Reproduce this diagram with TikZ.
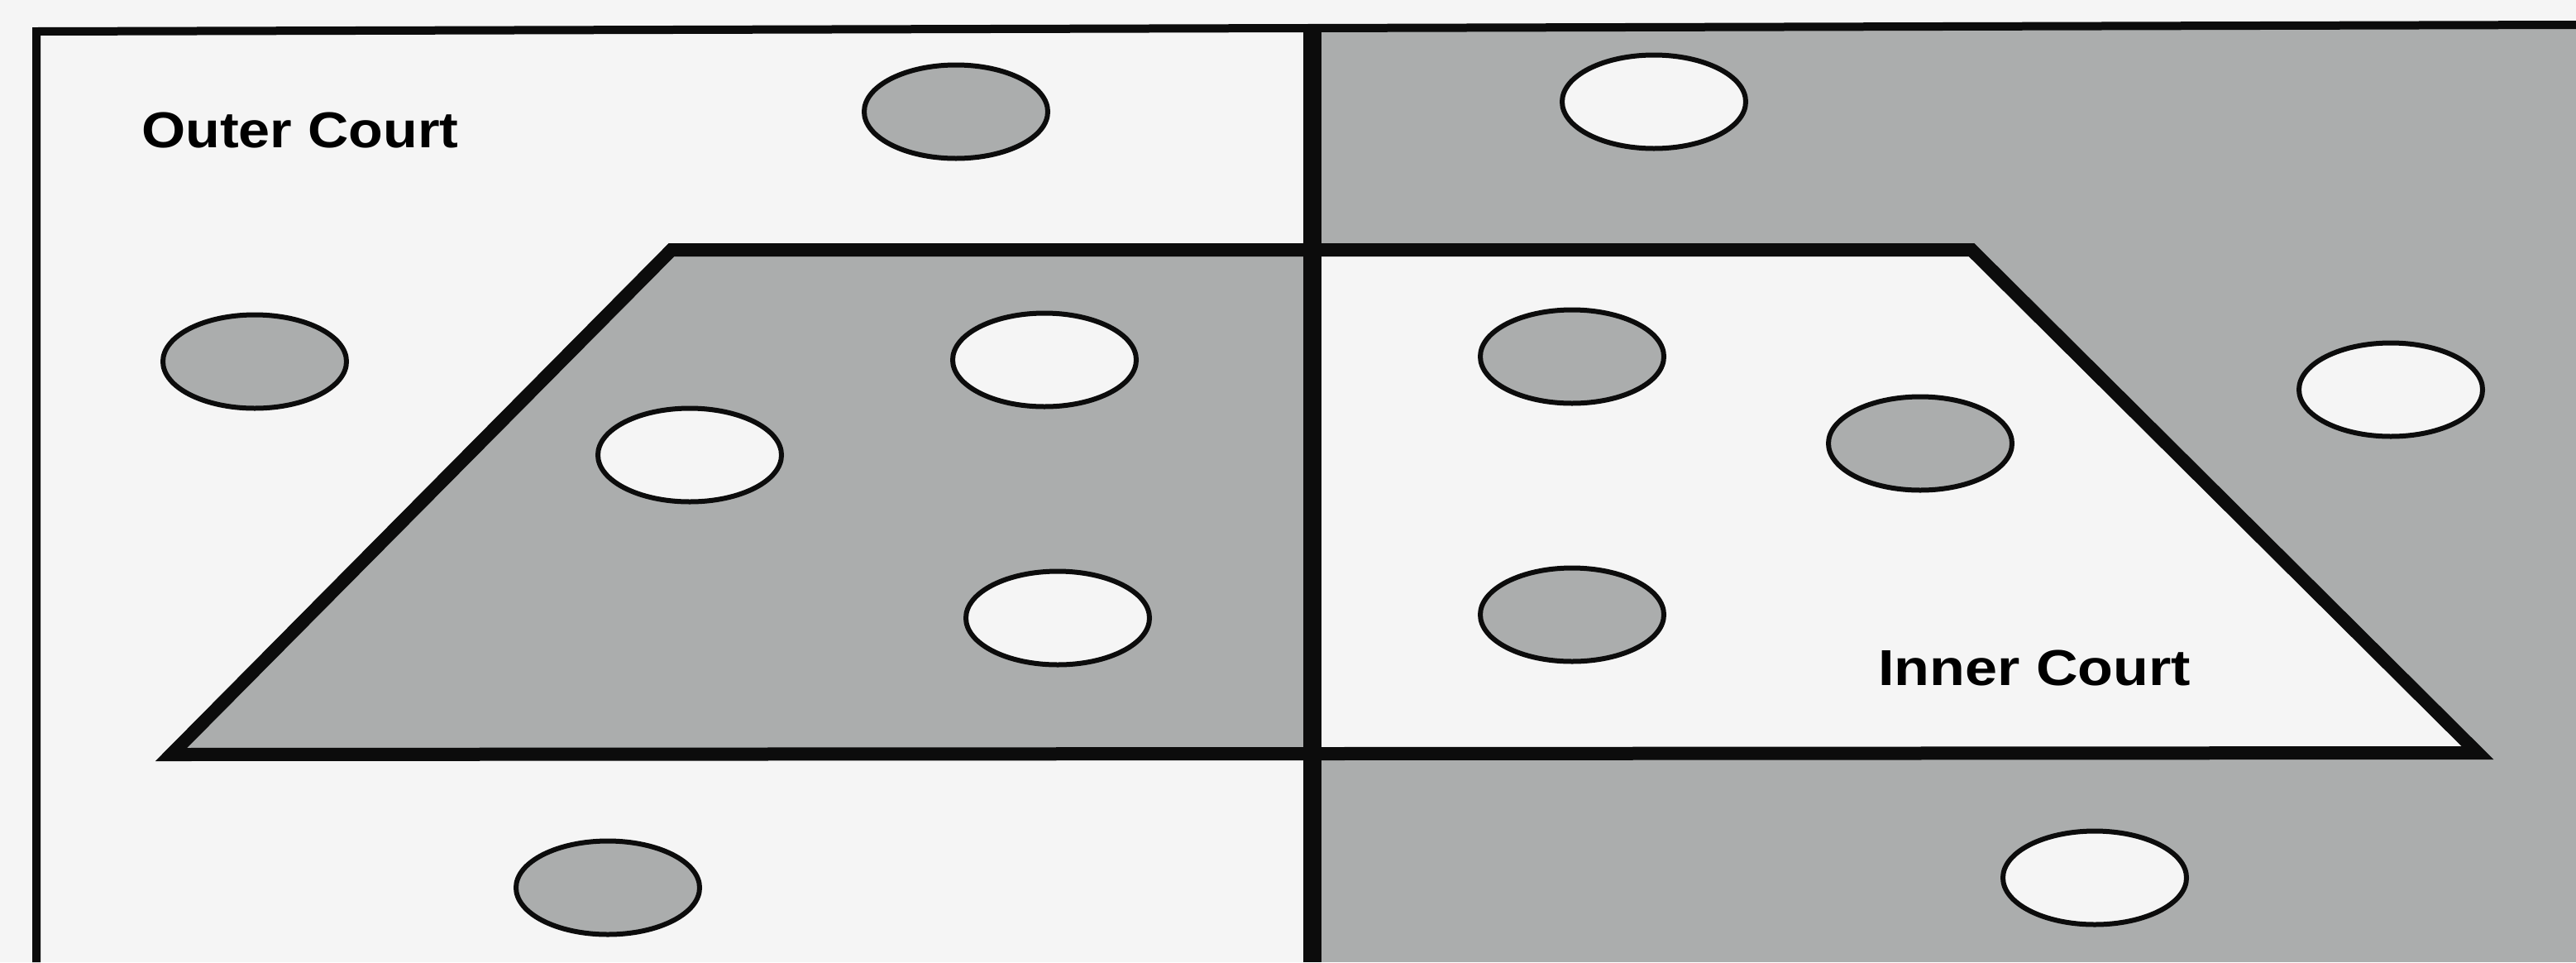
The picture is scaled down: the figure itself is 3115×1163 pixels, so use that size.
\documentclass[tikz,border=0pt]{standalone}
\usepackage{fontspec}
\usepackage{graphicx}
\usetikzlibrary{shapes.geometric}
\newfontfamily\labfont{Liberation Sans}[BoldFont={* Bold}]
\definecolor{courtgray}{RGB}{171,173,173}
\definecolor{courtlight}{RGB}{245,245,245}
\definecolor{inkline}{RGB}{12,12,12}
\tikzset{
  stone/.style={ellipse, draw=inkline, line width=6pt, minimum width=222pt, minimum height=113pt, inner sep=0pt},
  graystone/.style={stone, fill=courtgray},
  lightstone/.style={stone, fill=courtlight},
  wall/.style={draw=inkline, line width=18pt},
  courtlabel/.style={anchor=west, inner sep=0pt, text=black, font=\labfont\bfseries\fontsize{61}{70}\selectfont}
}
\begin{document}
\begin{tikzpicture}[x=1pt,y=-1pt]
\useasboundingbox (0,0) rectangle (3115,1163);
\fill[courtlight] (0,0) rectangle (3115,1163);
% halves
\fill[courtlight] (44,38) rectangle (1587,1163);
\fill[courtgray] (1587,33) rectangle (3115,1163);
% trapezoid
\coordinate (tl) at (812,302);
\coordinate (tr) at (2384,302);
\coordinate (bl) at (207,912);
\coordinate (br) at (2996,910);
\coordinate (ct) at (1587,302);
\coordinate (cb) at (1587,911);
\fill[courtgray] (bl) -- (tl) -- (ct) -- (cb) -- cycle;
\fill[courtlight] (ct) -- (tr) -- (br) -- (cb) -- cycle;
% outer border
\draw[inkline, line width=10pt] (44,1163) -- (44,38) -- (3115,30);
% trapezoid walls
\draw[wall, line width=16pt, miter limit=20] (bl) -- (tl) -- (tr) -- (br) -- cycle;
% centre line
\coordinate (cup) at (1587,33);
\coordinate (cdown) at (1587,1163);
\draw[inkline, line width=22pt] (cup) -- (cdown);
% stones
\node[graystone] (s1) at (1156,135) {};
\node[lightstone] (s2) at (2000,123) {};
\node[graystone] (s3) at (308,437) {};
\node[lightstone] (s4) at (1263,435) {};
\node[lightstone] (s5) at (834,550) {};
\node[lightstone] (s6) at (1279,747) {};
\node[graystone] (s7) at (1901,431) {};
\node[graystone] (s8) at (2322,536) {};
\node[graystone] (s9) at (1901,743) {};
\node[lightstone] (s10) at (2891,471) {};
\node[graystone] (s11) at (735,1073) {};
\node[lightstone] (s12) at (2533,1061) {};
% labels
\node[courtlabel] (outer) at (171,157) {\scalebox{1.12}[1]{Outer Court}};
\node[courtlabel] (inner) at (2271,807) {\scalebox{1.15}[1]{Inner Court}};
\end{tikzpicture}
\end{document}
